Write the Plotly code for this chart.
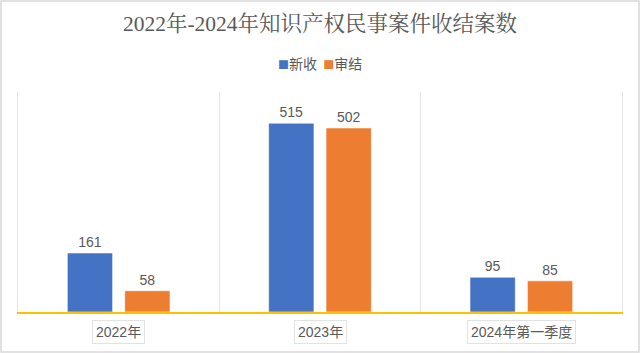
import plotly.graph_objects as go

categories = ["2022年", "2023年", "2024年第一季度"]
new_cases = [161, 515, 95]
closed_cases = [58, 502, 85]
series_names = ["新收", "审结"]
colors = ["#4472C4", "#ED7D31"]

W, H = 640, 353
ml, mr, mt, mb = 18, 18, 92, 41

fig = go.Figure()
for name, vals, col in zip(series_names, [new_cases, closed_cases], colors):
    fig.add_trace(go.Bar(x=categories, y=vals, name=name,
                         marker=dict(color=col, line=dict(color="rgba(255,255,255,0.6)", width=1)),
                         showlegend=False,
                         text=vals, textposition="outside",
                         textfont=dict(size=14, color="#595959",
                                       family="Liberation Sans, Noto Sans CJK SC"),
                         cliponaxis=False))

pw = W - ml - mr
ph = H - mt - mb
fig.add_shape(type="rect", xref="paper", yref="paper",
              x0=-(ml - 1) / pw, x1=1 + (mr - 1) / pw,
              y0=-(mb - 1) / ph, y1=1 + (mt - 1) / ph,
              line=dict(color="#D9D9D9", width=1.5), layer="below")

legend_text = "&nbsp;&nbsp;".join(
    f"<span style='color:{c};font-size:11px'>■</span>{n}" for n, c in zip(series_names, colors))
fig.add_annotation(xref="paper", yref="paper", x=0.5, y=1 + (mt - 63) / ph,
                   xanchor="center", yanchor="middle", showarrow=False,
                   text=legend_text,
                   font=dict(family="Noto Sans CJK SC", size=14, color="#595959"))

for cat in categories:
    fig.add_annotation(x=cat, y=0, xref="x", yref="y", yanchor="top", yshift=-8,
                       showarrow=False, text=cat,
                       font=dict(size=14, color="#595959",
                                 family="Liberation Sans, Noto Sans CJK SC"),
                       bgcolor="white", bordercolor="#E2E2E2", borderwidth=1, borderpad=3)

fig.update_layout(
    width=W, height=H,
    margin=dict(l=ml, r=mr, t=mt, b=mb),
    paper_bgcolor="white", plot_bgcolor="white",
    title=dict(text="2022年-2024年知识产权民事案件收结案数",
               x=0.5, xanchor="center", y=1 - 23 / H, yanchor="middle",
               font=dict(family="Liberation Serif, Noto Serif CJK SC, Noto Sans CJK SC",
                         size=21.5, color="#595959")),
    bargap=0.43, bargroupgap=0.21,
    font=dict(family="Liberation Sans, Noto Sans CJK SC", color="#595959"),
    showlegend=False,
)
fig.update_xaxes(tickson="boundaries", showgrid=True, gridcolor="#E4E4E4", gridwidth=1,
                 showline=True, linecolor="#FFC000", linewidth=1.5,
                 ticks="", showticklabels=False,
                 zeroline=False)
fig.update_yaxes(range=[0, 600], showgrid=False, showticklabels=False,
                 zeroline=False, showline=True, mirror=True,
                 linecolor="#E4E4E4", linewidth=1)

fig.write_html("out.html")
